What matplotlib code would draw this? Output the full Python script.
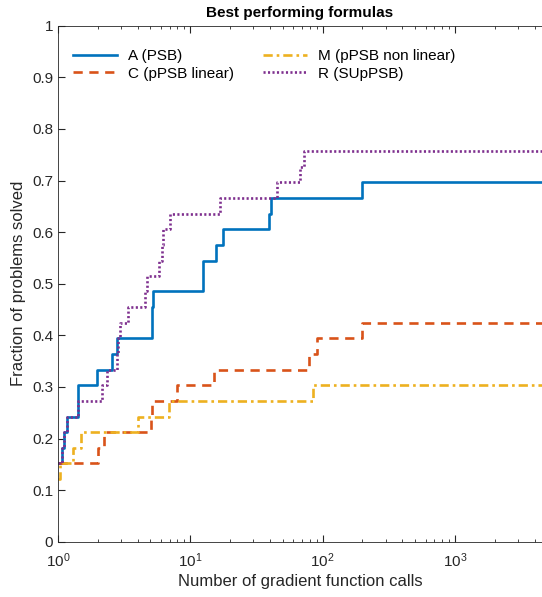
import numpy as np
import matplotlib
matplotlib.use("Agg")
import matplotlib.pyplot as plt
from matplotlib.ticker import LogLocator, NullFormatter

plt.rcParams['font.family'] = ['Liberation Sans', 'DejaVu Sans']

# performance profiles: number of gradient calls (x) where the fraction steps up (y)
x_max = 4550

a_x = [1, 1.07, 1.11, 1.16, 1.42, 1.96, 2.54, 2.78, 5.1, 5.26, 12.5, 15.6, 17.8, 39.3, 41, 200, x_max]
a_y = [0.152, 0.182, 0.212, 0.242, 0.303, 0.333, 0.364, 0.394, 0.455, 0.485, 0.545, 0.576, 0.606,
       0.636, 0.667, 0.697, 0.697]

c_x = [1, 2.0, 2.24, 5.05, 5.15, 8.0, 15.2, 79.4, 90.2, 197, x_max]
c_y = [0.152, 0.182, 0.212, 0.242, 0.273, 0.303, 0.333, 0.364, 0.394, 0.424, 0.424]

m_x = [1, 1.03, 1.29, 1.49, 4.0, 6.95, 84, x_max]
m_y = [0.121, 0.152, 0.182, 0.212, 0.242, 0.273, 0.303, 0.303]

r_x = [1, 1.07, 1.11, 1.16, 1.42, 2.14, 2.33, 2.8, 2.86, 2.94, 3.4, 4.55, 4.68, 5.8, 6.08, 6.26,
       7.0, 16.8, 45, 68, 72, x_max]
r_y = [0.152, 0.182, 0.212, 0.242, 0.273, 0.303, 0.333, 0.364, 0.394, 0.424, 0.455, 0.485, 0.515,
       0.545, 0.576, 0.606, 0.636, 0.667, 0.697, 0.727, 0.758, 0.758]

labels = ['A (PSB)', 'C (pPSB linear)', 'M (pPSB non linear)', 'R (SUpPSB)']

fig = plt.figure(figsize=(5.42, 5.97), dpi=100)
ax = fig.add_axes([58 / 542, 55.3 / 597, 484 / 542, 515.9 / 597])

lw = 1.9
ax.step(a_x, a_y, where='post', color='#0072BD', lw=lw, ls='-', label=labels[0])
ax.step(c_x, c_y, where='post', color='#D95319', lw=lw, ls=(0, (3.5, 2.5)), label=labels[1])
ax.step(m_x, m_y, where='post', color='#EDB120', lw=lw, ls=(0, (3.5, 1.5, 1, 1.5)), label=labels[2])
ax.step(r_x, r_y, where='post', color='#7E2F8E', lw=lw, ls=(0, (0.8, 0.9)), label=labels[3])

ax.set_xscale('log')
ax.set_xlim(1, x_max)
ax.set_ylim(0, 1)
ax.set_yticks(np.arange(0, 1.01, 0.1))
ax.set_yticklabels(['0', '0.1', '0.2', '0.3', '0.4', '0.5', '0.6', '0.7', '0.8', '0.9', '1'])
ax.xaxis.set_minor_locator(LogLocator(base=10, subs=np.arange(2, 10)))
ax.xaxis.set_minor_formatter(NullFormatter())

dark = '#262626'
for side in ['left', 'top', 'bottom']:
    ax.spines[side].set_color(dark)
    ax.spines[side].set_linewidth(0.6)
ax.spines['right'].set_visible(False)
ax.tick_params(axis='both', which='both', direction='in', colors=dark, labelsize=11, top=True, right=False)
ax.tick_params(which='major', length=5)
ax.tick_params(which='minor', length=2.5)
ax.tick_params(axis='x', which='major', pad=7)

ax.set_xlabel('Number of gradient function calls', fontsize=12, color=dark, labelpad=3)
ax.set_ylabel('Fraction of problems solved', fontsize=12, color=dark)
ax.set_title('Best performing formulas', fontsize=11, fontweight='bold', color='black', pad=6)

ax.legend(loc='upper left', bbox_to_anchor=(0.031, 0.955), ncol=2, frameon=False, fontsize=11,
          handlelength=2.9, handletextpad=0.7, columnspacing=1.9, labelspacing=0.25,
          borderpad=0, borderaxespad=0)

fig.savefig('out.png', dpi=100)
